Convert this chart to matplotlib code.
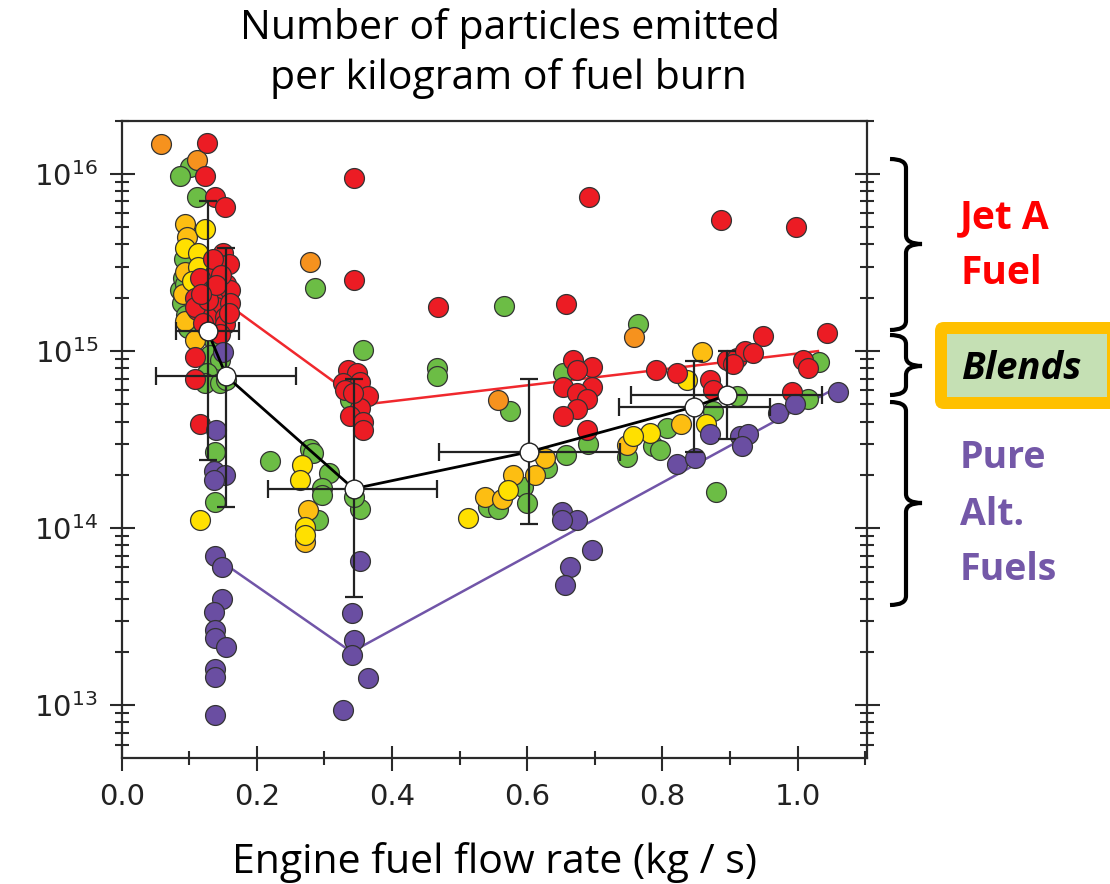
import matplotlib
matplotlib.use("Agg")
import matplotlib.pyplot as plt
import matplotlib.transforms as mtransforms
from matplotlib.path import Path
from matplotlib.patches import PathPatch, FancyBboxPatch, Rectangle
from matplotlib.ticker import LogLocator, MultipleLocator, NullFormatter, FormatStrFormatter

# ---------------- data ----------------
red_x = [0.126, 0.123, 0.138, 0.153, 0.150, 0.143, 0.158, 0.138, 0.155, 0.116, 0.108, 0.133,
         0.150, 0.160, 0.111, 0.140, 0.126, 0.153, 0.160, 0.153, 0.108, 0.145, 0.120, 0.108,
         0.108, 0.116, 0.343, 0.343, 0.468, 0.335, 0.348, 0.328, 0.353, 0.330, 0.365, 0.353,
         0.338, 0.357, 0.357, 0.342, 0.692, 0.886, 0.997, 0.658, 0.948, 1.044, 0.668, 0.695,
         0.673, 0.653, 0.695, 0.673, 0.688, 0.673, 0.653, 0.688, 0.791, 0.821, 0.870, 0.875,
         0.895, 0.910, 0.922, 0.934, 0.905, 1.008, 1.016, 0.991,
         0.135, 0.147, 0.128, 0.158, 0.140, 0.118]
red_y = [1.49e16, 9.7e15, 7.4e15, 6.5e15, 3.6e15, 3.1e15, 3.1e15, 2.75e15, 2.4e15, 2.6e15,
         2.0e15, 2.2e15, 2.0e15, 2.2e15, 1.7e15, 1.78e15, 1.56e15, 1.56e15, 1.86e15, 1.43e15,
         1.78e15, 1.25e15, 1.45e15, 9.3e14, 7.0e14, 3.9e14, 9.5e15, 2.52e15, 1.78e15, 7.8e14,
         7.5e14, 6.6e14, 6.7e14, 6.0e14, 5.6e14, 4.8e14, 4.3e14, 4.0e14, 3.6e14, 5.8e14,
         7.4e15, 5.5e15, 5.0e15, 1.84e15, 1.22e15, 1.26e15, 8.9e14, 8.1e14, 7.8e14, 6.3e14,
         6.3e14, 5.8e14, 5.4e14, 4.7e14, 4.3e14, 3.6e14, 7.8e14, 7.5e14, 6.9e14, 6.0e14,
         8.9e14, 9.2e14, 1.0e15, 9.7e14, 8.5e14, 8.9e14, 8.0e14, 5.9e14,
         3.3e15, 2.7e15, 1.95e15, 1.65e15, 2.35e15, 2.1e15]

orange_x = [0.058, 0.111, 0.279, 0.758, 0.556]
orange_y = [1.48e16, 1.2e16, 3.2e15, 1.2e15, 5.3e14]

green_x = [0.101, 0.086, 0.112, 0.086, 0.089, 0.090, 0.095, 0.136, 0.131, 0.145, 0.126, 0.123,
           0.145, 0.155, 0.138, 0.138, 0.286, 0.357, 0.338, 0.466, 0.467, 0.565, 0.764, 0.575,
           0.219, 0.279, 0.283, 0.306, 0.296, 0.296, 0.291, 0.353, 0.343, 0.653, 1.032, 1.016,
           0.910, 0.875, 0.806, 0.786, 0.796, 0.747, 0.879, 0.690, 0.658, 0.629, 0.594, 0.542,
           0.557, 0.599, 0.092, 0.098, 0.093]
green_y = [1.1e16, 9.7e15, 7.4e15, 2.2e15, 1.86e15, 2.6e15, 1.6e15, 1.15e15, 9.5e14, 8.9e14,
           7.5e14, 6.6e14, 6.6e14, 6.9e14, 2.7e14, 1.41e14, 2.26e15, 1.01e15, 5.3e14, 8.0e14,
           7.2e14, 1.8e15, 1.43e15, 4.6e14, 2.4e14, 2.8e14, 2.65e14, 2.04e14, 1.68e14, 1.54e14,
           1.11e14, 1.29e14, 1.51e14, 7.5e14, 8.7e14, 5.4e14, 5.6e14, 4.6e14, 3.7e14, 2.9e14,
           2.76e14, 2.53e14, 1.6e14, 3.0e14, 2.6e14, 2.2e14, 1.7e14, 1.32e14, 1.29e14, 1.38e14,
           3.3e15, 1.35e15, 2.4e15]

yellow_x = [0.123, 0.094, 0.113, 0.113, 0.116, 0.266, 0.264, 0.271, 0.271, 0.836, 0.864,
            0.781, 0.757, 0.513, 0.572, 0.104]
yellow_y = [4.9e15, 3.8e15, 3.6e15, 3.0e15, 1.11e14, 2.27e14, 1.87e14, 1.02e14, 9.1e13,
            6.9e14, 3.9e14, 3.45e14, 3.3e14, 1.14e14, 1.64e14, 2.5e15]

gold_x = [0.094, 0.096, 0.094, 0.091, 0.094, 0.108, 0.276, 0.271, 0.858, 0.828, 0.747, 0.626,
          0.611, 0.579, 0.537, 0.562]
gold_y = [5.2e15, 4.4e15, 2.8e15, 2.1e15, 1.47e15, 1.15e15, 1.26e14, 8.4e13, 9.9e14, 3.9e14,
          2.95e14, 2.5e14, 2.0e14, 2.0e14, 1.5e14, 1.47e14]

purple_x = [0.150, 0.140, 0.136, 0.153, 0.136, 0.138, 0.148, 0.148, 0.136, 0.138, 0.138, 0.155,
            0.138, 0.138, 0.138, 0.353, 0.340, 0.343, 0.340, 0.365, 0.328, 0.651, 0.673, 0.651,
            0.695, 0.663, 0.656, 0.821, 0.848, 0.870, 0.915, 0.927, 0.917, 0.971, 0.996, 1.060]
purple_y = [9.9e14, 3.6e14, 2.1e14, 2.0e14, 1.87e14, 7.0e13, 6.0e13, 4.0e13, 3.37e13, 2.65e13,
            2.4e13, 2.14e13, 1.6e13, 1.45e13, 8.8e12, 6.5e13, 3.3e13, 2.33e13, 1.92e13, 1.42e13,
            9.4e12, 1.24e14, 1.11e14, 1.11e14, 7.5e13, 6.0e13, 4.8e13, 2.3e14, 2.5e14, 3.4e14,
            3.3e14, 3.4e14, 2.9e14, 4.45e14, 5.0e14, 5.9e14]

red_line_x = [0.16, 0.36, 1.03]
red_line_y = [1.8e15, 5.0e14, 1.0e15]
purple_line_x = [0.16, 0.34, 1.05]
purple_line_y = [6.0e13, 2.0e13, 6.0e14]

mean_x = [0.127, 0.155, 0.343, 0.603, 0.846, 0.895]
mean_y = [1.30e15, 7.2e14, 1.67e14, 2.70e14, 4.84e14, 5.64e14]
mean_x_lo = [0.081, 0.051, 0.216, 0.470, 0.735, 0.754]
mean_x_hi = [0.173, 0.258, 0.466, 0.737, 0.959, 1.036]
mean_y_lo = [2.44e14, 1.32e14, 4.1e13, 1.06e14, 2.7e14, 3.2e14]
mean_y_hi = [7.0e15, 3.83e15, 7.0e14, 7.0e14, 8.8e14, 1.0e15]

x_ticks = [0.0, 0.2, 0.4, 0.6, 0.8, 1.0]

# ---------------- figure ----------------
W, H = 1110, 884
fig = plt.figure(figsize=(W / 100, H / 100), dpi=100)
ax = fig.add_axes([121.7 / W, 1 - 758 / H, (867.3 - 121.7) / W, (758 - 120.7) / H])
ax.set_yscale('log')
ax.set_xlim(0.0, 1.103)
ax.set_ylim(5.04e12, 2.0e16)

edge = '#333333'
kw = dict(s=205, edgecolors=edge, linewidths=0.9, zorder=3)
ax.plot(red_line_x, red_line_y, color='#F0282D', lw=1.8, zorder=2)
ax.plot(purple_line_x, purple_line_y, color='#7155A8', lw=1.8, zorder=2)
ax.scatter(green_x, green_y, c='#6CBD45', **kw)
ax.scatter(gold_x, gold_y, c='#FDBE12', **kw)
ax.scatter(yellow_x, yellow_y, c='#FFE000', **kw)
ax.scatter(orange_x, orange_y, c='#F6921E', **kw)
ax.scatter(red_x, red_y, c='#EC1C24', **kw)
ax.scatter(purple_x, purple_y, c='#6A4EA2', **kw)

xerr = [[m - lo for m, lo in zip(mean_x, mean_x_lo)], [hi - m for m, hi in zip(mean_x, mean_x_hi)]]
yerr = [[m - lo for m, lo in zip(mean_y, mean_y_lo)], [hi - m for m, hi in zip(mean_y, mean_y_hi)]]
ax.errorbar(mean_x, mean_y, xerr=xerr, yerr=yerr, fmt='none', ecolor='#222222',
            elinewidth=1.6, capsize=6.5, capthick=1.6, zorder=4)
ax.plot(mean_x, mean_y, color='black', lw=2.0, zorder=5)
ax.plot(mean_x, mean_y, 'o', mfc='white', mec='#222222', mew=1.0, ms=13.5, zorder=6, ls='none')

# axes style
for sp in ax.spines.values():
    sp.set_linewidth(1.6)
    sp.set_color('#2a2a2a')
ax.set_xticks(x_ticks)
ax.xaxis.set_major_formatter(FormatStrFormatter('%.1f'))
ax.xaxis.set_minor_locator(MultipleLocator(0.1))
ax.yaxis.set_major_locator(LogLocator(base=10, numticks=10))
ax.yaxis.set_minor_locator(LogLocator(base=10, subs=[2, 3, 4, 5, 6, 7, 8, 9], numticks=20))
ax.yaxis.set_minor_formatter(NullFormatter())
ax.tick_params(which='both', direction='inout', color='#2a2a2a', width=1.5,
               left=True, right=True, bottom=True, top=False, labelright=False)
ax.tick_params(which='major', length=18)
ax.tick_params(which='minor', length=9.5)
ax.tick_params(axis='x', which='major', labelsize=21, pad=9, labelcolor='#222222')
ax.tick_params(axis='y', which='major', labelsize=21, pad=8, labelcolor='#222222')

# ---------------- texts ----------------
tfont = ['Open Sans', 'DejaVu Sans']
fig.text(510 / W, 1 - 39 / H, 'Number of particles emitted', ha='center', va='baseline',
         fontsize=29.5, family=tfont, color='black')
fig.text(508 / W, 1 - 89 / H, 'per kilogram of fuel burn', ha='center', va='baseline',
         fontsize=29.5, family=tfont, color='black')
fig.text(495 / W, 1 - 873 / H, 'Engine fuel flow rate (kg / s)', ha='center', va='baseline',
         fontsize=29.5, family=tfont, color='black')

red_c = '#FF0000'
pur_c = '#7458A8'
fig.text(960 / W, 1 - 228 / H, 'Jet A', ha='left', va='baseline', fontsize=28,
         fontweight='bold', family=tfont, color=red_c)
fig.text(960 / W, 1 - 284 / H, 'Fuel', ha='left', va='baseline', fontsize=28,
         fontweight='bold', family=tfont, color=red_c)
fig.text(960 / W, 1 - 468 / H, 'Pure', ha='left', va='baseline', fontsize=27,
         fontweight='bold', family=tfont, color=pur_c)
fig.text(960 / W, 1 - 525 / H, 'Alt.', ha='left', va='baseline', fontsize=27,
         fontweight='bold', family=tfont, color=pur_c)
fig.text(960 / W, 1 - 580 / H, 'Fuels', ha='left', va='baseline', fontsize=27,
         fontweight='bold', family=tfont, color=pur_c)

# ---------------- braces and Blends box (pixel coords from top-left) ----------------
flip = mtransforms.Affine2D().scale(1, -1).translate(0, H)


def brace(y0, y1, ym, xh=890, xv=906, xp=922, r=9):
    verts = [(xh, y0), (xv, y0), (xv, y0 + r),
             (xv, ym - r), (xv, ym), (xp, ym),
             (xv, ym), (xv, ym + r),
             (xv, y1 - r), (xv, y1), (xh, y1)]
    codes = [Path.MOVETO, Path.CURVE3, Path.CURVE3,
             Path.LINETO, Path.CURVE3, Path.CURVE3,
             Path.CURVE3, Path.CURVE3,
             Path.LINETO, Path.CURVE3, Path.CURVE3]
    p = PathPatch(Path(verts, codes), transform=flip, fill=False, lw=3.0,
                  edgecolor='black', capstyle='butt', joinstyle='miter')
    p.set_clip_on(False)
    fig.add_artist(p)


brace(159, 330, 244)
brace(335, 395, 366)
brace(402, 605, 503)

box = FancyBboxPatch((935, 322), 200, 87, boxstyle='round,pad=0,rounding_size=9',
                     transform=flip, facecolor='#FFC000', edgecolor='none')
fig.add_artist(box)
inner = Rectangle((947, 334), 160, 63, transform=flip, facecolor='#C5E0B4', edgecolor='none')
fig.add_artist(inner)
fig.text(961 / W, 1 - 379 / H, 'Blends', ha='left', va='baseline', fontsize=27.5,
         fontweight='bold', fontstyle='italic', family=tfont, color='black')

fig.savefig('out.png', dpi=100)
